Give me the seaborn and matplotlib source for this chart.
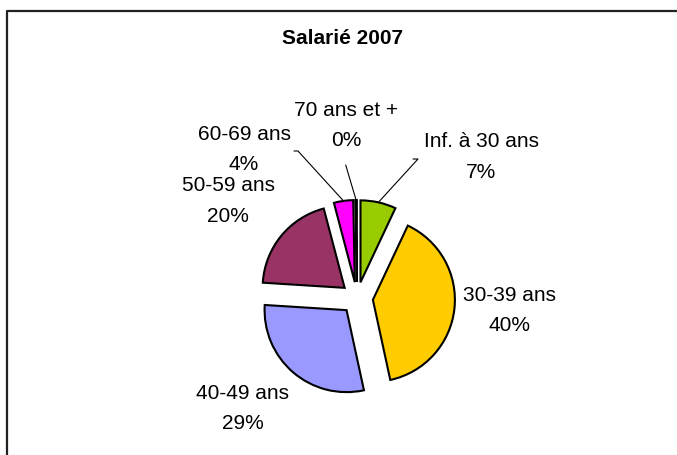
import matplotlib
matplotlib.use('Agg')
import matplotlib.pyplot as plt
import seaborn as sns
import numpy as np
from matplotlib.lines import Line2D

# ---- data ----
categories = ["Inf. à 30 ans", "30-39 ans", "40-49 ans", "50-59 ans", "60-69 ans", "70 ans et +"]
values = [7.0, 39.6, 29.4, 19.9, 3.8, 0.3]
colors = ["#99CC00", "#FFCC00", "#9999FF", "#993366", "#FF00FF", "#FFFFCC"]
title = "Salarié 2007"

sns.set_theme(style="white")
plt.rcParams['font.family'] = ['Liberation Sans', 'DejaVu Sans']

W, H = 677, 455
fig = plt.figure(figsize=(W / 100, H / 100), dpi=100)
fig.patch.set_facecolor('white')
ax = fig.add_axes([0, 0, 1, 1])

# layout (screen pixels, y downward)
cx, cy = 357, 298
R = 82
EXP = 16

ax.pie(values, colors=sns.color_palette(colors), startangle=90, counterclock=False,
       center=(cx, H - cy), radius=R, explode=[EXP] * len(values), frame=True,
       wedgeprops=dict(edgecolor='black', linewidth=1.5))
ax.set_xlim(0, W)
ax.set_ylim(0, H)
ax.set_aspect('equal')
ax.axis('off')

# label block centres (screen px)
label_pos = [(481, 157), (509.5, 310.5), (242.5, 408.5), (228, 201), (244, 149.5), (346, 125.5)]
# leader line start points on label side (screen px)
leaders = {0: [(413, 159), (418, 159)], 4: [(294, 151), (298, 151)], 5: [(345.7, 165)]}

total = sum(values)
cum = np.cumsum([0] + values) / total
for i, (cat, v) in enumerate(zip(categories, values)):
    x, y = label_pos[i]
    ax.text(x, H - y, f"{cat}\n{round(100 * v / total):.0f}%", ha='center', va='center',
            fontsize=15, linespacing=1.78, color='black')
    if i in leaders:
        th = np.deg2rad(90 - 360 * (cum[i] + cum[i + 1]) / 2)
        d = np.array([np.cos(th), np.sin(th)])
        outer = np.array([cx, H - cy]) + (EXP + R) * d
        pts = [(px, H - py) for px, py in leaders[i]] + [tuple(outer)]
        xs, ys = zip(*pts)
        ax.plot(xs, ys, color='black', lw=0.8)

fig.text(343 / W, 1 - 39 / H, title, ha='center', va='center', fontsize=15,
         fontweight='bold', color='black')

# chart frame (left and top edges visible)
fig.add_artist(Line2D([7.3 / W, 7.3 / W, 1.0], [0, 1 - 11.2 / H, 1 - 11.2 / H],
                      transform=fig.transFigure, color='#222222', lw=1.6))

fig.savefig('out.png', dpi=100, facecolor='white')
